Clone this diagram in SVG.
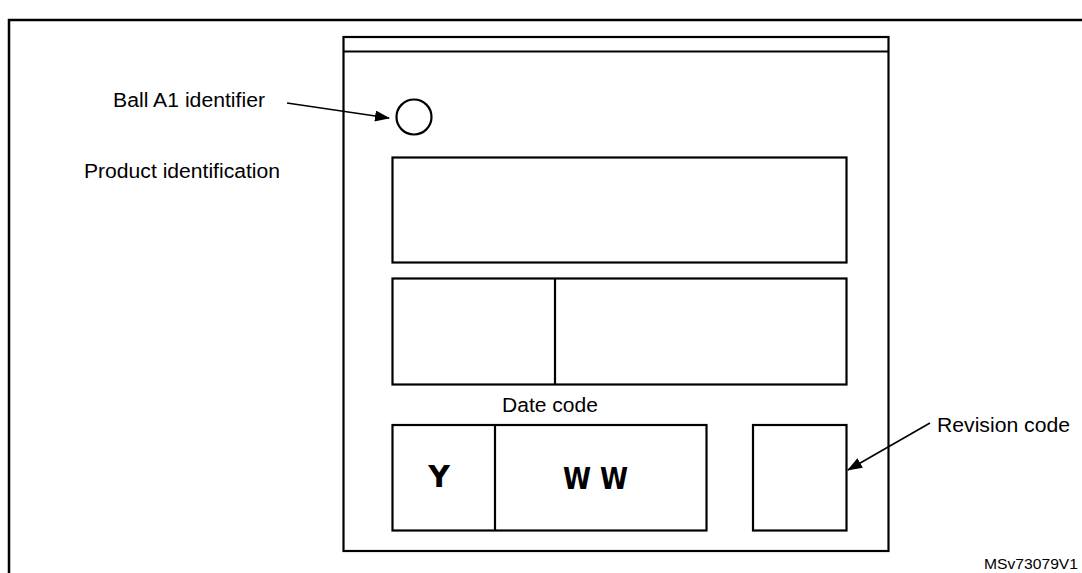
<svg xmlns="http://www.w3.org/2000/svg" width="1082" height="573" viewBox="0 0 1082 573">
<style>
.b{fill:none;stroke:#000;stroke-width:2.2}
.t{font-family:"Liberation Sans",Arial,sans-serif;font-size:20px;fill:#000}
.c{stroke:#000;stroke-width:1.6;fill:none}
.g{font-family:"DejaVu Sans",sans-serif;font-weight:bold;font-size:30px;fill:#000}
</style>
<defs>
<marker id="ah" markerWidth="15" markerHeight="11" refX="14" refY="5.5" orient="auto" markerUnits="userSpaceOnUse">
<path d="M0,0 L15,5.5 L0,11 Z" fill="#000"/>
</marker>
</defs>
<rect width="1082" height="573" fill="#fff"/>
<rect id="frame" x="9" y="20" width="1090" height="570" fill="none" stroke="#000" stroke-width="2.5"/>
<g id="package">
<rect class="b" x="343.5" y="37" width="545" height="514"/>
<line class="b" x1="343.5" y1="51.5" x2="888.5" y2="51.5"/>
</g>
<g id="ball-a1"><circle class="b" cx="414" cy="117" r="17.5"/></g>
<g id="product-id"><rect class="b" x="392.5" y="157.5" width="454" height="105"/></g>
<g id="second-row">
<rect class="b" x="392.5" y="278.5" width="454" height="106"/>
<line class="b" x1="555" y1="278.5" x2="555" y2="384.5"/>
</g>
<g id="date-code">
<rect class="b" x="392.5" y="425" width="314" height="105.5"/>
<line class="b" x1="495" y1="425" x2="495" y2="530.5"/>
<text class="g" x="439" y="487" text-anchor="middle">Y</text>
<text class="g" x="563" y="489" textLength="65" lengthAdjust="spacingAndGlyphs">W W</text>
</g>
<g id="revision-box"><rect class="b" x="753" y="425" width="93.5" height="105.5"/></g>
<g id="labels">
<text class="t" x="113" y="106.5" textLength="152" lengthAdjust="spacingAndGlyphs">Ball A1 identifier</text>
<text class="t" x="84" y="178" textLength="196" lengthAdjust="spacingAndGlyphs">Product identification</text>
<text class="t" x="502" y="412" textLength="96" lengthAdjust="spacingAndGlyphs">Date code</text>
<text class="t" x="937" y="432" textLength="133" lengthAdjust="spacingAndGlyphs">Revision code</text>
<text class="t" x="984" y="569" style="font-size:15px" textLength="94" lengthAdjust="spacingAndGlyphs">MSv73079V1</text>
</g>
<g id="connectors">
<line class="c" x1="287" y1="103" x2="389" y2="118" marker-end="url(#ah)"/>
<line class="c" x1="930" y1="423" x2="848" y2="470" marker-end="url(#ah)"/>
</g>
</svg>
